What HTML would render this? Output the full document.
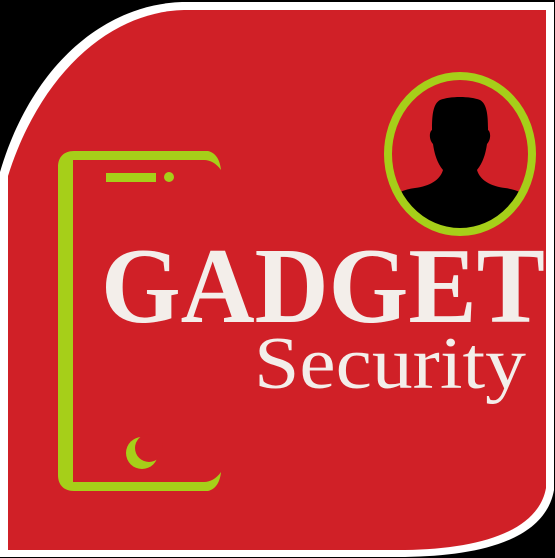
<!DOCTYPE html>
<html><head><meta charset="utf-8"><style>html,body{margin:0;padding:0;background:#000;}svg{display:block}</style></head>
<body>
<svg width="555" height="558" viewBox="0 0 555 558" xmlns="http://www.w3.org/2000/svg">
  <rect x="0" y="0" width="555" height="558" fill="#000"/>
  <path d="M0,172 C30,70 100,5 182,2 L554,2 L554,490 C545,540 480,556 405,557 L0,557 Z" fill="#fff"/>
  <path d="M8,176 C38,80 105,12 184,10 L546,10 L546,488 C538,532 478,549 405,550 L8,550 Z" fill="#d02027"/>
  <g>
    <path d="M74,151 L208,151 C216,153 220,160 221,170 C216,163 210,160 204,160 L73,160 L73,482 L204,482 C210,482 216,479 221,472 C220,482 216,489 208,491 L74,491 C64,491 58,485 58,475 L58,167 C58,157 64,151 74,151 Z" fill="#a6cf19"/>
    <rect x="106" y="173" width="50" height="9" fill="#a6cf19"/>
    <circle cx="169" cy="177" r="5" fill="#a6cf19"/>
    <g>
      <circle cx="142" cy="453" r="16" fill="#a6cf19"/>
      <circle cx="149" cy="448" r="14" fill="#d02027"/>
    </g>
  </g>
  <g>
    <clipPath id="cp"><ellipse cx="460" cy="154" rx="72" ry="78"/></clipPath>
    <g clip-path="url(#cp)">
      <path d="M440,100 C450,96 470,96 480,100 C487,104 488,115 488,130 C491,132 491,140 487,144 C485,158 481,165 477,170 C480,180 490,186 505,188 C520,190 530,196 540,210 L540,240 L380,240 L380,210 C390,196 400,190 415,188 C430,186 440,180 443,170 C439,165 435,158 433,144 C429,140 429,132 432,130 C432,115 433,104 440,100 Z" fill="#000"/>
    </g>
    <ellipse cx="460" cy="154" rx="72" ry="78" fill="none" stroke="#a6cf19" stroke-width="8"/>
  </g>
  <text x="101" y="322" font-family="Liberation Serif, serif" font-weight="bold" font-size="108" fill="#f3eeea" textLength="444" lengthAdjust="spacingAndGlyphs">GADGET</text>
  <text x="254" y="388" font-family="Liberation Serif, serif" font-size="74" fill="#f3eeea" textLength="272" lengthAdjust="spacingAndGlyphs">Security</text>
</svg>
</body></html>
